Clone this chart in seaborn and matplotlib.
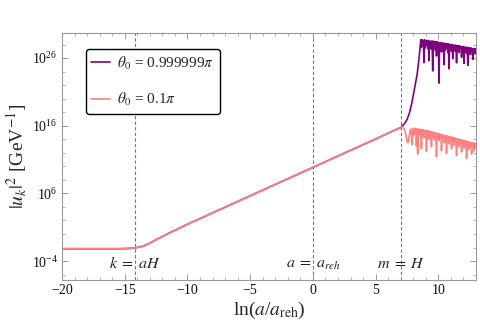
import numpy as np
import pandas as pd
import matplotlib
matplotlib.use('Agg')
import matplotlib.pyplot as plt
import seaborn as sns
from matplotlib.ticker import FixedLocator, MultipleLocator, LogFormatterSciNotation, NullFormatter

# ---- data (log10 of |u_k|^2) ----
# common smooth part (both runs are identical up to m = H)
x_smooth = [-20, -17, -15.5, -14.8, -14.2, -13.5, -13.0, -12.2, -11.5, -10, -5, 0, 5, 7.0]
y_smooth = [-2.18, -2.18, -2.18, -2.15, -2.07, -1.78, -1.35, -0.56, 0.1, 1.44, 5.64, 9.84, 14.04, 15.75]

# theta0 = 0.999999 pi : fast growth after m = H, then oscillation
x_rise = [7.3, 7.5, 7.7, 7.9, 8.1, 8.3, 8.45, 8.6]
y_rise = [16.3, 16.9, 17.9, 19.5, 21.5, 23.5, 25.8, 28.7]
x_purple_osc = list(np.round(np.arange(8.65, 13.001, 0.05), 2))
y_purple_osc = [27.6, 28.7, 27.8, 28.6, 25.3, 28.7, 27.5, 28.6, 27.9, 28.6,
                27.4, 28.6, 25.6, 28.5, 27.7, 28.5, 27.3, 28.5, 24.1, 28.5,
                27.6, 28.4, 27.2, 28.4, 26.3, 28.4, 27.5, 28.3, 22.3, 28.3,
                27.3, 28.3, 26.9, 28.2, 27.6, 28.2, 25.0, 28.2, 27.2, 28.1,
                27.5, 28.1, 26.8, 28.1, 24.4, 28.0, 27.3, 28.0, 27.0, 28.0,
                25.9, 27.9, 27.4, 27.9, 27.0, 27.9, 25.3, 27.8, 27.2, 27.8,
                26.8, 27.8, 27.3, 27.7, 26.1, 27.7, 27.0, 27.7, 25.2, 27.6,
                27.1, 27.6, 26.7, 27.6, 24.9, 27.5, 27.0, 27.5, 26.5, 27.5,
                26.9, 27.4, 25.8, 27.4, 26.8, 27.4, 26.6, 27.4]

# theta0 = 0.1 pi : stays near the frozen value and slowly decays
x_pink_osc = list(np.round(np.arange(7.05, 13.001, 0.05), 2))
y_pink_osc = [15.8, 15.8, 15.75, 15.7, 15.6, 15.4, 15.1, 14.8, 14.3, 13.8,
              13.5, 13.6, 14.2, 14.9, 15.3, 15.5, 14.6, 13.2, 14.8, 15.6,
              14.6, 15.6, 14.9, 15.6, 13.0, 15.5, 11.8, 15.5, 14.5, 15.5,
              14.7, 15.4, 12.6, 15.4, 14.6, 15.4, 14.2, 15.3, 14.8, 15.3,
              12.2, 15.3, 14.5, 15.2, 14.0, 15.2, 14.6, 15.1, 12.9, 15.1,
              14.4, 15.0, 13.9, 15.0, 14.5, 14.9, 11.4, 14.9, 14.3, 14.8,
              13.8, 14.8, 14.3, 14.7, 12.3, 14.7, 14.2, 14.6, 13.5, 14.6,
              14.1, 14.5, 11.9, 14.5, 13.9, 14.4, 13.3, 14.4, 14.0, 14.3,
              12.6, 14.3, 13.8, 14.2, 13.1, 14.2, 13.7, 14.1, 11.6, 14.1,
              13.6, 14.0, 12.9, 14.0, 13.5, 13.9, 12.1, 13.9, 13.4, 13.8,
              12.7, 13.8, 13.3, 13.7, 11.2, 13.7, 13.2, 13.6, 12.5, 13.6,
              13.1, 13.5, 11.8, 13.5, 12.9, 13.5, 12.3, 13.4, 12.8, 13.4]

labels = [r'$\theta_0$ = 0.999999$\pi$', r'$\theta_0$ = 0.1$\pi$']
colors = ['#800080', '#ff8080']
vlines = [-14.18, 0.0, 7.0]
vline_text = [r'$k\;=\;aH$', r'$a\;=\;a_{reh}$', r'$m\;=\;H$']

purple = pd.DataFrame({'x': x_smooth + x_rise + x_purple_osc,
                       'logy': y_smooth + y_rise + y_purple_osc})
purple['run'] = labels[0]
pink = pd.DataFrame({'x': x_smooth + x_pink_osc, 'logy': y_smooth + y_pink_osc})
pink['run'] = labels[1]
df = pd.concat([purple, pink], ignore_index=True)
df['u2'] = 10.0 ** df['logy']

sns.set_style('ticks')
plt.rcParams['font.family'] = ['Liberation Serif', 'DejaVu Serif']
plt.rcParams['mathtext.fontset'] = 'stix'

fig = plt.figure(figsize=(4.8, 3.32), dpi=100)
ax = fig.add_axes([62 / 480, 1 - 280 / 332, 414 / 480, 247 / 332])

sns.lineplot(data=df, x='x', y='u2', hue='run', palette=colors, hue_order=labels,
             estimator=None, sort=False, lw=1.2, ax=ax)
ax.set_yscale('log')
ax.set_xlim(-20, 13)
ax.set_ylim(10 ** -6.8, 10 ** 29.7)

for xv, t in zip(vlines, vline_text):
    ax.axvline(xv, color='#777777', ls=(0, (3, 2)), lw=0.8, zorder=0)
    ax.text(xv, 0.065, t, transform=ax.get_xaxis_transform(), ha='center', va='center',
            fontsize=11.5, color='#222222')

ax.yaxis.set_major_locator(FixedLocator([1e-4, 1e6, 1e16, 1e26]))
ax.yaxis.set_major_formatter(LogFormatterSciNotation())
ax.yaxis.set_minor_locator(FixedLocator([10.0 ** k for k in range(-6, 30, 2)]))
ax.yaxis.set_minor_formatter(NullFormatter())
ax.xaxis.set_major_locator(MultipleLocator(5))
ax.xaxis.set_minor_locator(MultipleLocator(1))
ax.tick_params(which='both', direction='in', top=True, right=True, color='#999999',
               labelsize=10, labelcolor='#111111', pad=3)
ax.tick_params(which='major', length=4, width=0.7)
ax.tick_params(which='minor', length=2, width=0.5)
for s in ax.spines.values():
    s.set_color('#999999')
    s.set_linewidth(0.8)

ax.set_xlabel(r'ln($a$/$a_{\rm reh}$)', fontsize=14, labelpad=2)
ax.set_ylabel(r'$|u_k|^2$ [GeV$^{-1}$]', fontsize=14, labelpad=2)

leg = ax.legend(loc='upper left', bbox_to_anchor=(0.058, 0.935), borderaxespad=0,
                fontsize=11, frameon=True, fancybox=True, handlelength=1.2,
                handletextpad=0.5, labelspacing=1.3, borderpad=0.35)
leg.get_frame().set_edgecolor('black')
leg.get_frame().set_linewidth(1.0)
leg.get_frame().set_alpha(1)

fig.savefig('out.png', dpi=100)
